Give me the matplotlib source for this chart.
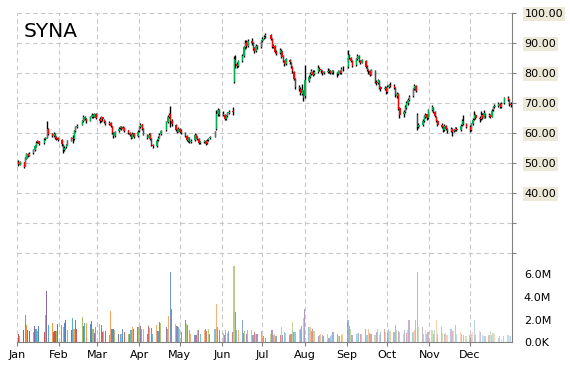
import numpy as np
import pandas as pd
import matplotlib
matplotlib.use('Agg')
import matplotlib.pyplot as plt
import matplotlib.dates as mdates
from matplotlib.colors import to_rgba

ticker = 'SYNA'
holidays = ['2014-01-01', '2014-01-20', '2014-02-17', '2014-04-18', '2014-05-26',
            '2014-07-04', '2014-09-01', '2014-11-27', '2014-12-25']
days = pd.bdate_range('2014-01-02', '2014-12-31')
days = days[~days.isin(pd.to_datetime(holidays))]

# daily prices, one row per month
opens = [
    50.4, 49.5, 50.3, 49.0, 51.5, 53.1, 52.4, 53.2, 54.3, 55.5, 56.9, 57.2, 56.6, 57.9, 58.5, 61.5, 59.7, 58.9, 59.8, 58.6, 58.2,
    57.6, 56.0, 54.4, 55.2, 56.1, 57.5, 58.5, 58.0, 60.8, 62.0, 62.8, 63.9, 65.5, 64.8, 64.1, 65.3, 66.2, 65.5, 66.4,
    64.8, 64.1, 65.2, 64.4, 63.9, 63.0, 63.4, 62.2, 60.0, 59.1, 60.6, 61.6, 62.1, 61.1, 61.7, 60.9, 60.1, 59.5, 58.5, 59.9, 58.9,
    60.6, 62.1, 62.9, 61.3, 59.4, 58.5, 59.6, 57.9, 56.0, 55.8, 57.6, 58.5, 59.6, 61.0, 63.8, 65.5, 66.3, 64.1, 62.8, 61.1, 60.5,
    61.4, 60.6, 60.0, 59.1, 57.5, 58.3, 57.1, 57.6, 59.3, 58.6, 58.1, 56.7, 57.1, 57.4, 56.6, 57.6, 58.2, 58.8, 61.2, 66.5, 67.7,
    66.3, 66.1, 64.7, 65.6, 66.6, 67.2, 77.0, 84.5, 83.1, 82.5, 84.1, 85.7, 88.6, 90.2, 89.1, 90.7, 90.1, 88.2, 87.5, 89.1, 88.7,
    90.6, 91.6, 92.2, 92.7, 91.3, 88.7, 89.1, 87.1, 86.6, 87.5, 85.6, 84.1, 83.1, 84.4, 83.4, 82.1, 80.4, 77.9, 75.3, 74.7, 73.0, 74.0,
    72.2, 77.4, 78.7, 79.7, 80.5, 79.6, 80.3, 81.5, 81.1, 80.6, 80.1, 80.4, 80.9, 80.6, 80.1, 80.7, 80.1, 79.6, 80.6, 80.1, 81.3,
    82.0, 86.1, 85.1, 84.0, 82.6, 84.6, 85.6, 84.1, 83.5, 84.0, 82.1, 81.1, 80.6, 79.5, 80.8, 77.1, 76.7, 77.4, 75.2, 74.6, 75.0,
    73.8, 75.4, 76.1, 75.7, 75.1, 72.4, 73.0, 68.2, 66.3, 67.1, 68.5, 70.1, 71.0, 72.2, 74.6, 75.7, 66.0, 62.1, 62.8, 64.1, 65.5, 66.2, 65.1,
    67.6, 68.4, 67.1, 65.4, 64.1, 62.6, 62.1, 61.1, 62.4, 61.4, 60.7, 61.4, 60.6, 61.1, 61.5, 61.1, 62.6, 64.1, 63.1,
    62.1, 61.1, 63.1, 64.6, 66.1, 65.1, 64.6, 66.1, 65.1, 66.4, 65.6, 66.1, 65.5, 67.6, 68.6, 69.1, 69.7, 68.6, 69.9, 71.6, 71.1, 69.6,
]
highs = [
    50.9, 50.6, 50.5, 51.9, 53.4, 53.3, 53.6, 54.6, 55.9, 57.2, 57.8, 57.5, 58.2, 58.8, 63.9, 61.8, 60.1, 60.2, 60.0, 58.9, 58.6,
    57.9, 56.3, 55.6, 56.4, 57.7, 58.8, 59.3, 61.0, 62.4, 63.0, 64.3, 66.0, 65.8, 65.1, 65.6, 66.7, 66.5, 66.8, 66.6,
    65.3, 65.6, 65.5, 64.7, 64.1, 63.9, 63.8, 62.5, 60.4, 60.8, 61.9, 62.4, 62.3, 62.2, 61.9, 61.1, 60.4, 59.7, 60.2, 60.0, 61.0,
    62.4, 63.3, 63.1, 61.6, 59.7, 60.0, 59.9, 58.2, 56.5, 57.9, 58.9, 59.9, 61.0, 64.0, 65.9, 66.6, 68.9, 64.6, 63.1, 61.5, 61.9,
    61.8, 61.2, 60.3, 59.4, 58.7, 58.6, 57.9, 59.9, 59.6, 58.9, 58.4, 57.4, 57.8, 57.6, 57.9, 58.5, 59.0, 60.6, 67.8, 68.3, 67.9,
    67.2, 66.4, 65.9, 66.9, 67.6, 68.7, 85.8, 86.0, 83.6, 84.5, 86.2, 89.0, 90.9, 91.0, 91.2, 91.7, 90.4, 88.6, 89.6, 89.5, 91.0,
    92.0, 92.6, 93.3, 92.9, 91.6, 89.6, 89.4, 87.6, 88.3, 87.9, 86.0, 84.5, 85.1, 84.8, 83.8, 82.4, 80.8, 78.3, 75.9, 75.2, 76.5, 74.5,
    82.6, 79.4, 80.4, 81.2, 81.0, 80.9, 82.7, 82.0, 81.4, 81.0, 80.8, 81.7, 81.2, 80.9, 81.1, 80.9, 80.4, 81.0, 80.9, 82.0, 82.2,
    87.7, 86.5, 85.4, 84.3, 85.0, 86.3, 85.9, 84.5, 84.8, 84.3, 82.6, 81.5, 80.9, 81.5, 81.1, 77.8, 78.0, 77.7, 75.8, 75.6, 75.4,
    75.9, 76.5, 76.9, 76.2, 75.4, 73.6, 73.3, 68.7, 67.6, 69.2, 70.7, 71.6, 72.6, 74.9, 76.4, 76.1, 66.7, 63.5, 64.6, 66.1, 66.6, 66.5, 67.9,
    69.4, 68.8, 67.5, 65.8, 64.5, 63.2, 62.5, 63.0, 62.8, 61.8, 61.9, 61.8, 61.5, 62.0, 62.0, 62.9, 64.6, 65.9, 63.5,
    62.7, 63.4, 64.9, 67.4, 66.5, 65.6, 67.2, 66.6, 67.7, 66.8, 66.6, 66.4, 67.9, 69.0, 69.6, 70.3, 70.0, 70.2, 72.0, 72.2, 71.4, 70.3,
]
lows = [
    49.1, 49.2, 48.2, 48.9, 51.3, 52.1, 52.2, 53.0, 54.1, 55.3, 56.7, 56.1, 56.4, 57.6, 58.2, 59.2, 58.6, 58.7, 58.1, 57.6, 57.2,
    55.8, 53.4, 54.0, 54.9, 55.9, 57.3, 56.7, 57.8, 60.5, 61.7, 62.6, 63.7, 64.4, 63.4, 63.9, 65.0, 65.1, 65.3, 64.6,
    63.5, 63.8, 64.1, 63.4, 62.7, 62.8, 62.0, 59.8, 58.3, 58.8, 60.3, 61.3, 60.9, 60.9, 60.5, 59.6, 58.9, 58.0, 58.3, 58.4, 58.7,
    60.3, 61.8, 61.0, 59.2, 57.9, 58.2, 57.7, 55.7, 55.0, 55.5, 57.3, 58.2, 59.4, 60.8, 63.5, 65.1, 62.1, 62.5, 60.7, 59.9, 60.2,
    60.1, 59.7, 58.7, 57.3, 57.1, 56.7, 56.6, 57.4, 58.2, 57.7, 56.2, 56.3, 56.8, 56.1, 56.3, 57.3, 57.9, 58.6, 61.0, 65.8, 65.7,
    65.6, 64.2, 64.3, 65.3, 66.3, 66.1, 76.6, 81.8, 81.7, 82.1, 83.8, 85.4, 88.1, 88.5, 88.8, 89.4, 87.6, 86.7, 87.1, 88.0, 88.4,
    90.2, 91.2, 91.8, 90.9, 88.2, 88.3, 86.6, 86.0, 86.3, 85.1, 83.6, 82.2, 82.8, 83.0, 81.6, 80.1, 77.7, 74.8, 74.1, 72.7, 72.6, 70.8,
    71.8, 76.9, 78.2, 79.4, 79.1, 79.3, 80.0, 80.6, 80.1, 79.4, 79.6, 80.0, 80.1, 79.6, 79.8, 79.7, 78.6, 79.3, 79.6, 79.8, 80.8,
    81.8, 84.6, 83.7, 82.0, 82.3, 84.2, 83.6, 83.0, 83.2, 81.7, 80.6, 79.8, 79.0, 79.2, 76.6, 75.9, 76.3, 74.6, 74.0, 74.2, 73.1,
    73.3, 74.9, 75.2, 74.6, 72.1, 71.8, 67.6, 65.0, 65.5, 66.6, 68.1, 69.4, 70.6, 72.0, 74.2, 73.6, 61.0, 61.6, 62.3, 63.6, 65.0, 64.4, 64.8,
    67.2, 66.8, 65.2, 63.7, 62.2, 61.6, 60.3, 60.8, 61.0, 59.9, 60.3, 59.1, 60.2, 60.8, 60.6, 60.8, 62.3, 62.6, 61.7,
    60.3, 60.8, 62.8, 64.3, 64.7, 63.6, 64.3, 64.6, 64.9, 65.1, 65.2, 65.0, 65.3, 67.3, 68.2, 68.8, 68.2, 68.4, 69.7, 70.6, 69.1, 68.6,
]
closes = [
    49.6, 50.2, 48.8, 51.6, 53.0, 52.4, 53.1, 54.2, 55.6, 56.8, 57.3, 56.4, 57.8, 58.3, 61.2, 59.6, 59.0, 59.7, 58.4, 58.1, 57.7,
    56.2, 54.3, 55.1, 56.0, 57.4, 58.4, 57.9, 60.7, 61.9, 62.5, 63.9, 65.4, 64.7, 64.0, 65.2, 66.1, 65.4, 66.3, 65.0,
    64.0, 65.3, 64.5, 63.8, 63.1, 63.5, 62.4, 60.1, 59.0, 60.4, 61.5, 62.0, 61.2, 61.8, 60.8, 60.0, 59.4, 58.4, 59.8, 58.8, 60.5,
    62.0, 62.8, 61.4, 59.5, 58.4, 59.5, 58.0, 56.1, 55.6, 57.5, 58.4, 59.5, 60.6, 63.6, 65.4, 66.1, 64.0, 62.9, 61.0, 60.4, 61.5,
    60.5, 60.1, 59.0, 57.6, 58.2, 57.0, 57.5, 59.4, 58.5, 58.0, 56.6, 57.0, 57.3, 56.5, 57.5, 58.1, 58.6, 60.2, 66.4, 67.6, 66.1,
    66.0, 64.6, 65.5, 66.5, 67.1, 67.0, 84.6, 83.0, 82.4, 84.0, 85.6, 88.5, 90.1, 89.0, 90.6, 90.0, 88.1, 87.4, 89.0, 88.6, 90.5,
    91.5, 92.1, 92.6, 91.4, 88.6, 89.0, 87.0, 86.5, 87.6, 85.5, 84.0, 83.0, 84.5, 83.5, 82.0, 80.5, 78.0, 75.2, 74.6, 73.2, 74.2, 71.8,
    77.6, 78.6, 79.8, 80.6, 79.5, 80.2, 81.6, 81.0, 80.5, 80.0, 80.3, 80.8, 80.5, 80.0, 80.6, 80.2, 79.5, 80.5, 80.0, 81.2, 81.5,
    86.0, 85.0, 84.1, 82.5, 84.5, 85.5, 84.0, 83.4, 84.2, 82.0, 81.0, 80.5, 79.4, 81.0, 77.0, 76.6, 77.5, 75.1, 74.5, 75.1, 73.6,
    75.5, 76.0, 75.6, 75.0, 72.5, 73.1, 68.0, 66.1, 67.0, 68.6, 70.0, 71.1, 72.0, 74.5, 75.6, 74.0, 62.0, 62.6, 64.0, 65.6, 66.1, 65.0, 67.5,
    68.5, 67.0, 65.5, 64.0, 62.5, 62.0, 61.0, 62.5, 61.5, 60.6, 61.5, 60.5, 61.0, 61.6, 61.0, 62.5, 64.0, 63.0, 62.0,
    61.0, 63.0, 64.5, 66.0, 65.0, 64.5, 66.0, 65.0, 66.5, 65.5, 66.0, 65.4, 67.5, 68.5, 69.0, 69.6, 68.5, 69.8, 71.5, 71.0, 69.5, 69.2,
]
# volume in millions of shares
volumes = [
    0.7, 0.55, 1.1, 2.4, 1.5, 1.1, 1.0, 0.9, 1.4, 1.2, 1.0, 1.4, 0.9, 2.4, 4.5, 1.5, 1.65, 0.9, 1.0, 0.95, 1.6,
    1.5, 1.35, 1.65, 2.0, 1.1, 1.1, 2.1, 1.2, 2.0, 1.2, 2.2, 1.4, 1.65, 1.7, 1.6, 1.9, 1.15, 0.8, 1.3,
    1.6, 1.5, 0.9, 1.0, 1.0, 0.6, 2.75, 1.15, 1.15, 1.1, 0.75, 0.7, 0.7, 1.15, 0.9, 0.75, 0.75, 1.1, 1.35, 1.2, 1.3,
    1.35, 1.4, 1.15, 1.15, 0.7, 1.4, 1.25, 1.25, 0.75, 1.5, 1.0, 1.8, 1.7, 1.35, 1.2, 2.3, 6.25, 2.9, 1.6, 1.4, 1.35,
    1.15, 0.85, 2.0, 1.6, 1.5, 1.1, 0.75, 0.6, 0.6, 1.1, 1.05, 0.75, 1.1, 1.15, 1.0, 1.2, 0.75, 1.15, 3.4, 1.35, 1.1,
    0.8, 0.6, 1.1, 0.8, 1.0, 0.9, 6.8, 2.7, 1.1, 1.1, 2.0, 0.8, 1.0, 0.7, 1.1, 1.1, 0.6, 0.9, 0.7, 0.75, 0.95,
    0.6, 0.55, 0.4, 0.75, 1.1, 0.6, 0.7, 0.55, 0.6, 1.35, 0.6, 0.85, 0.8, 0.6, 0.75, 1.8, 0.9, 0.9, 1.1, 1.15, 1.4, 2.1,
    2.9, 1.35, 1.35, 1.0, 1.2, 1.0, 0.55, 0.6, 0.7, 0.6, 0.5, 0.7, 0.4, 0.5, 0.65, 0.85, 0.7, 0.5, 0.55, 0.6, 0.75,
    1.95, 1.45, 1.15, 0.6, 0.7, 0.8, 0.8, 0.7, 0.7, 1.15, 0.65, 1.15, 0.8, 0.7, 0.6, 0.9, 1.2, 0.6, 0.9, 1.2, 0.85,
    0.8, 1.2, 1.0, 0.9, 1.5, 1.1, 1.0, 0.85, 0.75, 1.05, 0.8, 1.05, 1.95, 0.9, 1.1, 1.95, 6.2, 1.35, 1.35, 0.7, 1.05, 0.75, 0.9,
    1.05, 0.75, 1.05, 1.95, 0.75, 1.35, 0.8, 0.7, 0.8, 0.6, 1.15, 1.0, 1.0, 1.5, 0.7, 0.85, 0.75, 0.6, 0.5,
    0.6, 0.75, 0.9, 1.95, 0.6, 1.0, 0.9, 0.6, 0.5, 0.55, 0.6, 1.0, 0.6, 0.8, 0.7, 0.4, 0.5, 0.3, 0.5, 0.6, 0.5, 0.5,
]

df = pd.DataFrame({'open': opens, 'high': highs, 'low': lows,
                   'close': closes, 'volume': volumes}, index=days)

green = '#00b050'
red = '#ff0000'
grid_kw = dict(color='#c8c8c8', linestyle=(0, (4, 3)), linewidth=0.8)
palette = ['#4f81bd', '#c0504d', '#9bbb59', '#8064a2', '#4bacc6', '#f79646']

fig = plt.figure(figsize=(5.7, 3.7), dpi=100)
ax = fig.add_axes([17 / 570, 28 / 370, 495 / 570, 329 / 370])
axv = ax.twinx()

x = mdates.date2num(df.index)

# volume bars, fading towards the end of the year
alphas = np.linspace(1.0, 0.35, len(df))
vcolors = [to_rgba(palette[(i + 1) % len(palette)], a) for i, a in enumerate(alphas)]
axv.bar(x, df['volume'] * 1e6, width=0.85, color=vcolors, linewidth=0)
axv.set_ylim(0, 329 / 22.5 * 2e6)
axv.set_yticks([0, 2e6, 4e6, 6e6], ['0.0K', '2.0M', '4.0M', '6.0M'])
axv.tick_params(axis='y', length=0, pad=8.5, labelsize=8)
for s in axv.spines.values():
    s.set_visible(False)

# candles
up = df['close'] >= df['open']
ax.vlines(x, df['low'], df['high'], color='black', linewidth=1.0, zorder=3)
ax.bar(x + 0.3, df['close'] - df['open'], bottom=df['open'], width=1.0,
       color=np.where(up, green, red), linewidth=0, zorder=4)

ax.set_xlim(mdates.date2num(pd.Timestamp('2014-01-01')),
            mdates.date2num(pd.Timestamp('2014-12-31 23:00')))
ax.set_ylim(100 - 329 / 3, 100)
ax.yaxis.tick_right()
price_ticks = list(range(20, 101, 10))
ax.set_yticks(price_ticks, [f'{v:.2f}' if v >= 40 else '' for v in price_ticks])
for lab in ax.get_yticklabels():
    lab.set_bbox(dict(facecolor='#ece9d8', edgecolor='none', pad=1.5))
ax.tick_params(axis='y', length=3, pad=6, labelsize=8, color='#808080')

ax.xaxis.set_major_locator(mdates.MonthLocator())
ax.xaxis.set_major_formatter(mdates.DateFormatter('%b'))
ax.tick_params(axis='x', length=3, pad=3, labelsize=8, color='#808080')

ax.grid(True, **grid_kw)
ax.set_axisbelow(True)
for side in ['top', 'left']:
    ax.spines[side].set_visible(False)
for side in ['right', 'bottom']:
    ax.spines[side].set_color('#808080')

ax.text(7 / 495, 1 - 9 / 329, ticker, transform=ax.transAxes,
        fontsize=14.5, ha='left', va='top')

fig.savefig('out.png', dpi=100)
